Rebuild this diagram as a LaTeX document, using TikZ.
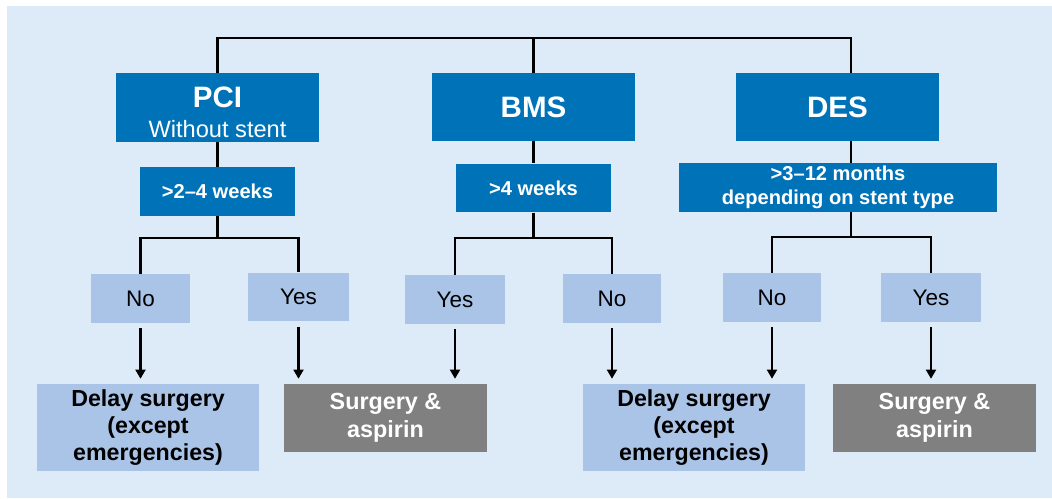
\documentclass[tikz,border=0pt]{standalone}
\usepackage{fontspec}
\setmainfont{Liberation Sans}
\usepackage{tikz}
\usetikzlibrary{shapes,arrows.meta,calc}
\definecolor{boxblue}{RGB}{0,114,183}
\definecolor{answerblue}{RGB}{170,196,232}
\definecolor{backblue}{RGB}{221,234,247}
\definecolor{boxgray}{RGB}{128,128,128}
\pgfdeclarelayer{bg}
\pgfsetlayers{bg,main}
\tikzstyle{stentblock} = [fill=boxblue, text=white, rectangle, inner sep=0pt, minimum height=1.7cm, minimum width=5.075cm, align=center, font=\bfseries\fontsize{21}{21.5}\selectfont]
\tikzstyle{timeblock} = [fill=boxblue, text=white, rectangle, inner sep=0pt, minimum height=1.22cm, minimum width=3.875cm, align=center, font=\bfseries\fontsize{14.3}{17}\selectfont]
\tikzstyle{answer} = [fill=answerblue, rectangle, inner sep=0pt, minimum height=1.22cm, minimum width=2.45cm, font=\fontsize{16}{18}\selectfont]
\tikzstyle{delayblock} = [fill=answerblue, rectangle, inner sep=0pt, minimum height=2.175cm, minimum width=5.55cm, align=center, font=\bfseries\fontsize{16.5}{19}\selectfont]
\tikzstyle{surgeryblock} = [fill=boxgray, text=white, rectangle, inner sep=0pt, minimum height=1.7cm, minimum width=5.075cm, align=center, font=\bfseries\fontsize{16.6}{20}\selectfont]
\tikzstyle{link} = [line width=1.6pt]
\tikzstyle{flow} = [link, -{Triangle[length=6.5pt,width=7pt]}, shorten <=3.5pt, shorten >=3.5pt]

\begin{document}
\begin{tikzpicture}[x=0.025cm, y=-0.025cm]
\useasboundingbox (0,0) rectangle (1052,499);

%% Stent types %%
\node [stentblock] (PCI) at (217.5,107.5) {\rule{0pt}{21pt}PCI\\{\mdseries\fontsize{16.8}{20.5}\selectfont Without stent}};
\node [stentblock] (BMS) at (533.5,107) {BMS};
\node [stentblock] (DES) at (837.5,107) {DES};

%% Time since procedure %%
\node [timeblock] (WeeksPCI) at (217.5,191.5) {>2–4 weeks};
\node [timeblock] (WeeksBMS) at (533.5,188) {>4 weeks};
\node [timeblock, minimum width=7.95cm] (MonthsDES) at (838,187.5) {>3–12 months\\depending on stent type};

%% Answers %%
\node [answer] (NoPCI) at (140.5,298.5) {No};
\node [answer, minimum width=2.5cm] (YesPCI) at (298.5,297) {Yes};
\node [answer, minimum width=2.5cm] (YesBMS) at (455,299.5) {Yes};
\node [answer] (NoBMS) at (612,298.5) {No};
\node [answer] (NoDES) at (772,297.5) {No};
\node [answer, minimum width=2.5cm] (YesDES) at (931,297.5) {Yes};

%% Outcomes %%
\node [delayblock] (DelayLeft) at (148,427.5) {Delay surgery\\(except\\emergencies)};
\node [surgeryblock] (SurgeryLeft) at (385.5,418) {Surgery \&\\aspirin};
\node [delayblock] (DelayRight) at (694,427.5) {Delay surgery\\(except\\emergencies)};
\node [surgeryblock] (SurgeryRight) at (934.5,418) {Surgery \&\\aspirin};

%% Background %%
\begin{pgfonlayer}{bg}
\fill[backblue] (7,6) rectangle (1052,498);
\end{pgfonlayer}

%% Forbindelse %%
\coordinate (TopPCI) at (217.5,38);
\coordinate (TopDES) at (851,38);
\draw[link] (PCI.north) -- (TopPCI) -- (TopDES) -- (TopDES |- DES.north);
\draw[link] (BMS.north) -- (BMS.north |- TopPCI);
\draw[link] (PCI) -- (WeeksPCI);
\draw[link] (BMS) -- (WeeksBMS);
\draw[link] (DES.south -| TopDES) -- (MonthsDES.north -| TopDES);

\coordinate (SplitPCI) at (217.5,238);
\coordinate (SplitBMS) at (533.5,238);
\coordinate (SplitDES) at (851,237);
\draw[link] (WeeksPCI) -- (SplitPCI);
\draw[link] (NoPCI.north) |- (SplitPCI) -| (YesPCI.north);
\draw[link] (WeeksBMS) -- (SplitBMS);
\draw[link] (YesBMS.north) |- (SplitBMS) -| (NoBMS.north);
\draw[link] (MonthsDES.south -| SplitDES) -- (SplitDES);
\draw[link] (NoDES.north) |- (SplitDES) -| (YesDES.north);

\draw[flow] (NoPCI) -- (NoPCI |- DelayLeft.north);
\draw[flow] (YesPCI) -- (YesPCI |- SurgeryLeft.north);
\draw[flow] (YesBMS) -- (YesBMS |- SurgeryLeft.north);
\draw[flow] (NoBMS) -- (NoBMS |- DelayRight.north);
\draw[flow] (NoDES) -- (NoDES |- DelayRight.north);
\draw[flow] (YesDES) -- (YesDES |- SurgeryRight.north);
\end{tikzpicture}
\end{document}
